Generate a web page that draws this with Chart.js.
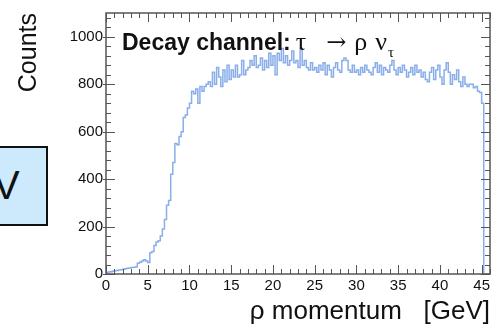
<!DOCTYPE html>
<html>
<head>
<meta charset="utf-8">
<script src="https://cdn.jsdelivr.net/npm/chart.js@4.4.1/dist/chart.umd.min.js"></script>
<style>
  html, body { margin: 0; padding: 0; background: #fff; }
  #wrap { position: relative; width: 494px; height: 333px; overflow: hidden; }
  #plot { position: absolute; left: 0; top: 0; }
  .note { position: absolute; left: 122px; top: 27px; font: bold 23px 'Liberation Sans', Arial, sans-serif;
          line-height: 23px; white-space: nowrap; color: #111; }
  .note .sym { font: normal 26px 'Liberation Serif', 'DejaVu Serif', serif; }
  .note .arr { font: normal 24px 'DejaVu Serif', serif; }
  .note sub { font-size: 15px; vertical-align: -7px; margin-left: 1px; }
  .side { position: absolute; left: -3px; top: 146px; width: 47px; height: 76px; border: 2px solid #111;
          background: #cdeafd; overflow: hidden; }
  .side span { position: absolute; left: -6px; top: 17px; font: 40px 'Liberation Sans', Arial, sans-serif;
               line-height: 40px; color: #111; }
</style>
</head>
<body>
<div id="wrap">
  <canvas id="plot" width="494" height="333"></canvas>
  <div class="note">Decay channel:<span class="sym" style="margin-left:5px">τ</span><span class="arr" style="margin-left:20px">→</span><span class="sym" style="margin-left:8px">ρ</span><span class="sym" style="margin-left:8px">ν<sub>τ</sub></span></div>
  <div class="side"><span>V</span></div>
</div>
<script>
  // histogram of rho momentum, 0.25 GeV bins starting at 0
  const binLow = 0;
  const binWidth = 0.25;
  const counts = [
    3, 5, 8, 10, 12, 14, 15, 17,
    18, 20, 22, 24, 25, 27, 28, 30,
    45, 50, 55, 60, 55, 48, 90, 95,
    120, 135, 140, 160, 190, 230, 290, 310,
    420, 470, 550, 545, 580, 600, 660, 670,
    700, 720, 770, 760, 780, 720, 790, 770,
    790, 800, 810, 790, 850, 800, 870, 830,
    790, 860, 810, 880, 820, 860, 830, 880,
    830, 840, 900, 840, 860, 870, 900, 880,
    920, 870, 880, 910, 860, 900, 870, 930,
    880, 920, 840, 930, 900, 950, 890, 920,
    880, 900, 940, 890, 900, 870, 950, 880,
    900, 870, 860, 890, 860, 870, 850, 880,
    860, 890, 840, 880, 860, 830, 870, 890,
    860, 850, 900, 910, 900, 860, 850, 880,
    850, 860, 840, 870, 850, 880, 860, 850,
    840, 870, 890, 850, 880, 840, 870, 860,
    850, 880, 900, 860, 840, 870, 850, 880,
    860, 830, 850, 870, 840, 880, 850, 860,
    830, 850, 820, 810, 850, 870, 820, 860,
    880, 830, 800, 860, 890, 850, 800, 840,
    820, 860, 810, 790, 830, 800, 790, 800,
    800, 785, 790, 770, 765, 720, 0, 0
  ];
  const xTicks = [0, 5, 10, 15, 20, 25, 30, 35, 40, 45];
  const yTicks = [0, 200, 400, 600, 800, 1000];

  const points = counts.map((c, i) => ({ x: binLow + i * binWidth, y: c }));
  points.push({ x: binLow + counts.length * binWidth, y: 0 });

  // ROOT style frame with inward ticks
  const frameTicks = {
    id: 'frameTicks',
    afterDatasetsDraw(chart) {
      const { ctx, chartArea: a, scales: { x, y } } = chart;
      ctx.save();
      ctx.strokeStyle = '#555';
      ctx.lineWidth = 1;
      ctx.beginPath();
      for (let v = 0; v <= 46; v += 1) {
        const px = Math.round(x.getPixelForValue(v)) + 0.5;
        const len = v % 5 === 0 ? 9 : 5;
        ctx.moveTo(px, a.bottom); ctx.lineTo(px, a.bottom - len);
        ctx.moveTo(px, a.top); ctx.lineTo(px, a.top + len);
      }
      for (let v = 0; v <= 1100; v += 40) {
        const py = Math.round(y.getPixelForValue(v)) + 0.5;
        const major = v % 200 === 0;
        const len = major ? 9 : 5;
        ctx.moveTo(a.left - (major ? 3 : 0), py); ctx.lineTo(a.left + len, py);
        ctx.moveTo(a.right, py); ctx.lineTo(a.right - len, py);
      }
      ctx.stroke();
      ctx.lineWidth = 1.5;
      ctx.strokeRect(a.left, a.top, a.right - a.left, a.bottom - a.top);
      ctx.restore();
    }
  };

  const tickFont = { family: 'Liberation Sans', size: 15 };

  new Chart(document.getElementById('plot'), {
    type: 'line',
    data: {
      datasets: [{
        data: points,
        stepped: 'after',
        borderColor: '#8aaeea',
        borderWidth: 1.5,
        pointRadius: 0,
        fill: false
      }]
    },
    options: {
      responsive: false,
      animation: false,
      devicePixelRatio: 1,
      layout: { padding: { top: 13, right: 4, left: 0, bottom: 0 } },
      plugins: { legend: { display: false }, tooltip: { enabled: false } },
      scales: {
        x: {
          type: 'linear', min: 0, max: 46,
          grid: { display: false, drawTicks: false },
          border: { display: false },
          afterFit: s => { s.height = 59; },
          afterBuildTicks: s => { s.ticks = xTicks.map(v => ({ value: v })); },
          ticks: { font: tickFont, color: '#111', padding: 3, maxRotation: 0, autoSkip: false,
                   callback: v => String(v) },
          title: { display: true, text: 'ρ momentum   [GeV]', align: 'end', color: '#111',
                   font: { family: 'Liberation Sans', size: 26 }, padding: { top: 0, bottom: 6 } }
        },
        y: {
          min: 0, max: 1100,
          grid: { display: false, drawTicks: false },
          border: { display: false },
          afterFit: s => { s.width = 106; },
          afterBuildTicks: s => { s.ticks = yTicks.map(v => ({ value: v })); },
          ticks: { font: tickFont, color: '#111', padding: 3, autoSkip: false,
                   callback: v => String(v) },
          title: { display: true, text: 'Counts', align: 'end', color: '#111',
                   font: { family: 'Liberation Sans', size: 25 }, padding: { top: 14, bottom: 0 } }
        }
      }
    },
    plugins: [frameTicks]
  });
</script>
</body>
</html>
